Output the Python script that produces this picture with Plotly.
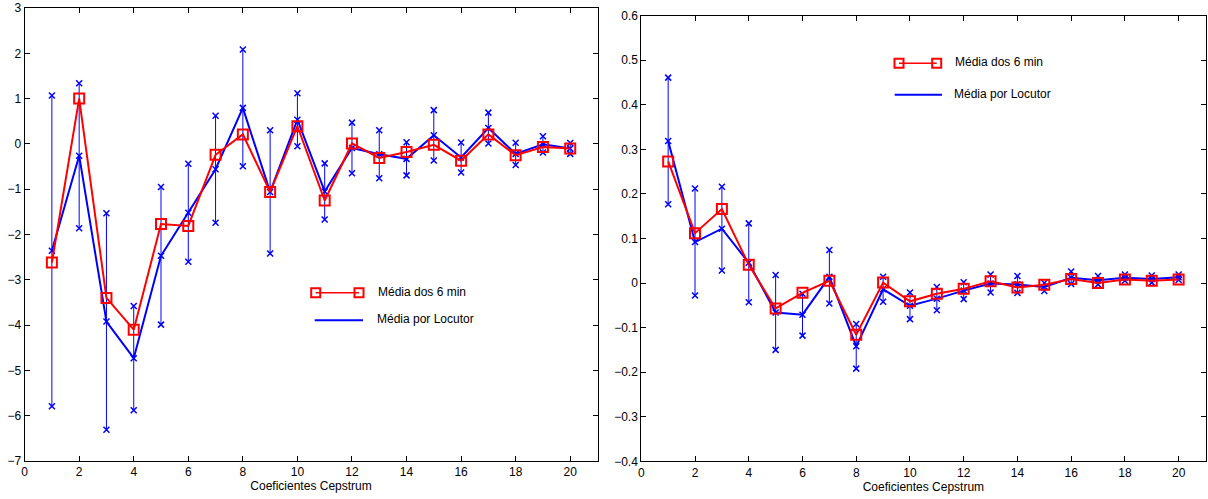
import numpy as np
import plotly.graph_objects as go

coef = list(range(1, 21))

# Left panel
left_media6 = [-2.62, 1.0, -3.40, -4.10, -1.77, -1.81, -0.24, 0.21, -1.06, 0.39,
               -1.25, 0.01, -0.31, -0.18, -0.02, -0.37, 0.21, -0.25, -0.07, -0.10]
left_locutor = [-2.36, -0.26, -3.92, -4.73, -2.47, -1.52, -0.56, 0.795, -1.06, 0.535,
                -1.05, -0.09, -0.23, -0.33, 0.19, -0.30, 0.35, -0.22, -0.01, -0.10]
left_std = [3.43, 1.60, 2.39, 1.15, 1.52, 1.08, 1.18, 1.29, 1.36, 0.585,
            0.62, 0.56, 0.53, 0.365, 0.555, 0.33, 0.34, 0.245, 0.18, 0.12]

# Right panel
right_media6 = [0.273, 0.112, 0.166, 0.041, -0.057, -0.022, 0.005, -0.116, 0.001, -0.041,
                -0.024, -0.013, 0.004, -0.010, -0.004, 0.009, 0.000, 0.008, 0.005, 0.008]
right_locutor = [0.319, 0.092, 0.122, 0.0455, -0.066, -0.071, 0.014, -0.142, -0.014, -0.051,
                 -0.035, -0.017, -0.001, -0.003, -0.009, 0.012, 0.0065, 0.012, 0.009, 0.013]
right_std = [0.142, 0.12, 0.094, 0.0885, 0.084, 0.047, 0.06, 0.05, 0.028, 0.030,
             0.026, 0.019, 0.020, 0.019, 0.009, 0.014, 0.0095, 0.007, 0.008, 0.006]

xlabel = "Coeficientes Cepstrum"
name_red = "Média dos 6 min"
name_blue = "Média por Locutor"

W, H = 1208, 499
OFF = 0  # body margin removed via post_script
BLUE = "#0000ff"
RED = "#ff0000"
FONT = "Liberation Sans, Arial, Helvetica, sans-serif"

fig = go.Figure()


def add_panel(fig, xa, ya, media6, locutor, std):
    loc = np.array(locutor)
    sd = np.array(std)
    fig.add_trace(go.Scatter(
        x=coef, y=loc, mode="markers", marker=dict(size=0.1, color=BLUE, opacity=0),
        error_y=dict(type="data", array=sd, visible=True, color=BLUE, thickness=1, width=0),
        xaxis=xa, yaxis=ya, showlegend=False, hoverinfo="skip"))
    for yy in (loc + sd, loc - sd):
        fig.add_trace(go.Scatter(
            x=coef, y=yy, mode="markers",
            marker=dict(symbol="x-thin", size=6, line=dict(color=BLUE, width=1.5)),
            xaxis=xa, yaxis=ya, showlegend=False, hoverinfo="skip"))
    fig.add_trace(go.Scatter(
        x=coef, y=loc, mode="lines+markers", name=name_blue,
        line=dict(color=BLUE, width=2),
        marker=dict(symbol="x-thin", size=6, line=dict(color=BLUE, width=1.5)),
        xaxis=xa, yaxis=ya, showlegend=False))
    fig.add_trace(go.Scatter(
        x=coef, y=media6, mode="lines+markers", name=name_red,
        line=dict(color=RED, width=2),
        marker=dict(symbol="square-open", size=10, color=RED, line=dict(color=RED, width=2)),
        xaxis=xa, yaxis=ya, showlegend=False))


add_panel(fig, "x", "y", left_media6, left_locutor, left_std)
add_panel(fig, "x2", "y2", right_media6, right_locutor, right_std)


def px(x):
    return (x - OFF) / W


def py(y):
    return 1 - (y - OFF) / H


axis_common = dict(
    showgrid=False, zeroline=False, showline=True, linecolor="black", linewidth=1,
    mirror="ticks", ticks="inside", ticklen=5, tickcolor="black", tickwidth=1,
    tickfont=dict(family=FONT, size=12, color="black"),
)

fig.update_layout(
    width=W, height=H,
    margin=dict(l=0, r=0, t=0, b=0),
    paper_bgcolor="white", plot_bgcolor="white",
    showlegend=False,
    hovermode=False,
    font=dict(family=FONT, size=12, color="black"),
    xaxis=dict(domain=[px(24.6), px(597.5)], range=[0, 21], tickvals=list(range(0, 21, 2)),
               anchor="y", title=dict(text=xlabel, font=dict(size=12), standoff=3),
               automargin=False, **axis_common),
    yaxis=dict(domain=[py(461), py(8)], range=[-7, 3], tickvals=list(range(-7, 4)),
               anchor="x", automargin=False, **axis_common),
    xaxis2=dict(domain=[px(641.3), px(1205.5)], range=[0, 21], tickvals=list(range(0, 21, 2)),
                anchor="y2", title=dict(text=xlabel, font=dict(size=12), standoff=3),
                automargin=False, **axis_common),
    yaxis2=dict(domain=[py(461.3), py(15.7)], range=[-0.4, 0.6],
                tickvals=[-0.4, -0.3, -0.2, -0.1, 0, 0.1, 0.2, 0.3, 0.4, 0.5, 0.6],
                ticktext=["\u22120.4", "\u22120.3", "\u22120.2", "\u22120.1", "0", "0.1", "0.2", "0.3", "0.4", "0.5", "0.6"],
                anchor="x2", automargin=False, **axis_common),
)

shapes = []
annotations = []


def legend(x_red0, x_red1, y_red, x_blue0, x_blue1, y_blue, tx_red, tx_blue):
    shapes.append(dict(type="line", xref="paper", yref="paper",
                       x0=px(x_red0), x1=px(x_red1), y0=py(y_red), y1=py(y_red),
                       line=dict(color=RED, width=1.5)))
    for xc in (x_red0, x_red1):
        shapes.append(dict(type="rect", xref="paper", yref="paper",
                           x0=px(xc - 4.5), x1=px(xc + 4.5), y0=py(y_red + 4.5), y1=py(y_red - 4.5),
                           line=dict(color=RED, width=2), fillcolor="rgba(0,0,0,0)"))
    shapes.append(dict(type="line", xref="paper", yref="paper",
                       x0=px(x_blue0), x1=px(x_blue1), y0=py(y_blue), y1=py(y_blue),
                       line=dict(color=BLUE, width=2)))
    annotations.append(dict(text=name_red, xref="paper", yref="paper", x=px(tx_red), y=py(y_red - 1),
                            xanchor="left", yanchor="middle", showarrow=False,
                            font=dict(family=FONT, size=12, color="black")))
    annotations.append(dict(text=name_blue, xref="paper", yref="paper", x=px(tx_blue), y=py(y_blue - 1),
                            xanchor="left", yanchor="middle", showarrow=False,
                            font=dict(family=FONT, size=12, color="black")))


legend(315.7, 359.0, 292.7, 314.7, 363.0, 320.3, 375.5, 374.5)
legend(899.0, 936.7, 63.3, 894.7, 942.0, 94.7, 953.0, 952.0)

fig.update_layout(shapes=shapes, annotations=annotations)

fig.write_html("out.html", config={"displayModeBar": False, "staticPlot": True},
               post_script="document.body.style.margin='0px';")
